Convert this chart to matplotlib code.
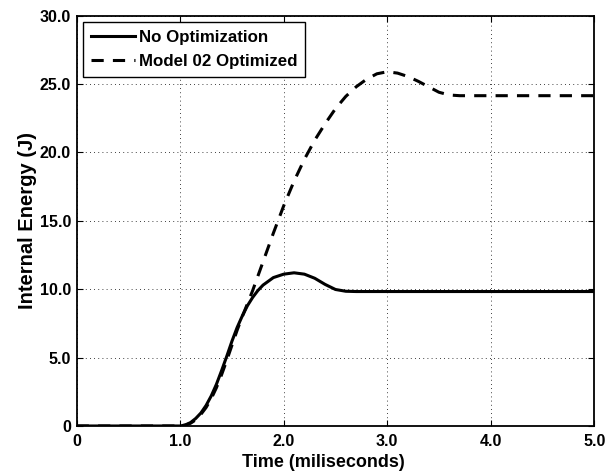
import matplotlib
matplotlib.use('Agg')
import matplotlib.pyplot as plt
from matplotlib import font_manager

# Dane (czas w ms, energia w J)
t_no_opt = [0.0, 0.5, 1.0, 1.05, 1.1, 1.15, 1.2, 1.25, 1.3, 1.35, 1.4, 1.45, 1.5, 1.55,
            1.6, 1.65, 1.7, 1.75, 1.8, 1.9, 2.0, 2.1, 2.2, 2.3, 2.4, 2.5, 2.6, 2.7, 3.0,
            4.0, 5.0]
e_no_opt = [0.0, 0.0, 0.0, 0.08, 0.25, 0.55, 0.95, 1.5, 2.2, 3.05, 4.05, 5.1, 6.2, 7.2,
            8.05, 8.8, 9.4, 9.9, 10.3, 10.85, 11.1, 11.2, 11.1, 10.8, 10.35, 9.98, 9.85,
            9.83, 9.83, 9.83, 9.83]

t_model02 = [0.0, 0.5, 1.0, 1.05, 1.1, 1.15, 1.2, 1.25, 1.3, 1.35, 1.4, 1.45, 1.5, 1.55,
             1.6, 1.65, 1.7, 1.8, 1.9, 2.0, 2.1, 2.2, 2.3, 2.4, 2.5, 2.6, 2.7, 2.8, 2.9,
             3.0, 3.1, 3.2, 3.3, 3.4, 3.5, 3.6, 3.7, 4.0, 5.0]
e_model02 = [0.0, 0.0, 0.0, 0.06, 0.2, 0.45, 0.85, 1.35, 2.0, 2.8, 3.75, 4.8, 5.9, 7.0,
             8.0, 8.95, 9.9, 12.0, 14.1, 16.1, 17.9, 19.5, 20.9, 22.1, 23.2, 24.1, 24.8,
             25.35, 25.75, 25.9, 25.8, 25.55, 25.2, 24.8, 24.4, 24.2, 24.15, 24.15, 24.15]

x_ticks = [0, 1, 2, 3, 4, 5]
x_tick_labels = ['0', '1.0', '2.0', '3.0', '4.0', '5.0']
y_ticks = [0, 5, 10, 15, 20, 25, 30]
y_tick_labels = ['0', '5.0', '10.0', '15.0', '20.0', '25.0', '30.0']

# Szukanie czcionki z wariantem pogrubionym
font_name = 'DejaVu Sans'
for cand in ['Liberation Sans', 'Arimo', 'Roboto', 'Open Sans', 'Noto Sans', 'Lato']:
    try:
        path = font_manager.findfont(font_manager.FontProperties(family=cand, weight='bold'),
                                     fallback_to_default=False)
        if 'bold' in path.lower():
            font_name = cand
            break
    except Exception:
        pass

plt.rcParams['font.family'] = [font_name, 'DejaVu Sans']
plt.rcParams['font.weight'] = 'bold'
plt.rcParams['axes.labelweight'] = 'bold'

fig = plt.figure(figsize=(6.1, 4.75), dpi=100)
ax = fig.add_axes([0.1257, 0.1032, 0.8485, 0.8638])

ax.plot(t_no_opt, e_no_opt, color='black', linewidth=2.2, linestyle='-', label='No Optimization')
ax.plot(t_model02, e_model02, color='black', linewidth=2.2, linestyle=(0, (4, 3)),
        label='Model 02 Optimized')

ax.set_xlim(0, 5)
ax.set_ylim(0, 30)
ax.set_xticks(x_ticks)
ax.set_xticklabels(x_tick_labels, fontsize=11.5, fontweight='bold')
ax.set_yticks(y_ticks)
ax.set_yticklabels(y_tick_labels, fontsize=11.5, fontweight='bold')
ax.tick_params(axis='x', pad=6)
ax.tick_params(direction='in', length=4, width=0.8, top=True, right=True)
ax.tick_params(axis='y', pad=4)

ax.set_xlabel('Time (miliseconds)', fontsize=13, fontweight='bold')
ax.xaxis.set_label_coords(0.477, -0.068)
ax.set_ylabel('Internal Energy (J)', fontsize=14.5, fontweight='bold', labelpad=2)

ax.grid(True, linestyle=(0, (1, 4)), color='black', linewidth=0.6)
for s in ax.spines.values():
    s.set_linewidth(1.3)

leg = ax.legend(loc='upper left', prop={'family': [font_name], 'weight': 'bold', 'size': 12.2},
                fancybox=False, edgecolor='black', framealpha=1, handlelength=2.6,
                borderpad=0.45, labelspacing=0.55, handletextpad=0.25,
                borderaxespad=0.4)
leg.get_frame().set_linewidth(1.0)

plt.savefig('out.png', dpi=100)
